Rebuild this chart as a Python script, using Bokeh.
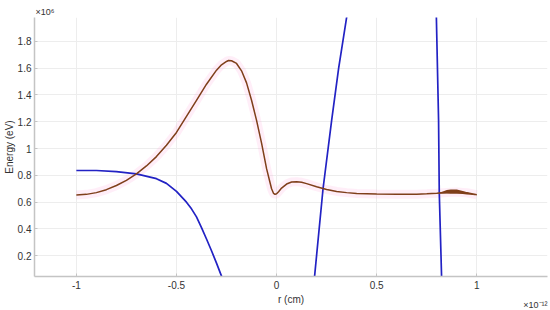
from bokeh.plotting import figure
from bokeh.models import Range1d, FixedTicker, Title
from bokeh.embed import file_html
from bokeh.resources import INLINE

# r in units of 1e-12 cm, energy in units of 1e6 eV
brown_r = [-1.0, -0.95, -0.9, -0.85, -0.8, -0.75, -0.7, -0.65, -0.6, -0.55, -0.5, -0.45, -0.4,
           -0.35, -0.3, -0.275, -0.25, -0.24, -0.225, -0.2, -0.175, -0.15, -0.125, -0.1,
           -0.075, -0.05, -0.035, -0.025, -0.015, -0.008, 0.0, 0.01, 0.025, 0.05, 0.075,
           0.1, 0.125, 0.15, 0.2, 0.25, 0.3, 0.35, 0.4, 0.5, 0.6, 0.7, 0.75, 0.8, 0.85,
           0.9, 0.95, 1.0]
brown_e = [0.654, 0.658, 0.671, 0.693, 0.724, 0.763, 0.811, 0.870, 0.940, 1.025, 1.12, 1.24, 1.36,
           1.48, 1.585, 1.625, 1.650, 1.657, 1.655, 1.635, 1.58, 1.49, 1.36, 1.21,
           1.04, 0.85, 0.76, 0.70, 0.665, 0.658, 0.662, 0.678, 0.705, 0.735, 0.750,
           0.753, 0.748, 0.738, 0.715, 0.694, 0.680, 0.671, 0.665, 0.660, 0.658, 0.659, 0.662,
           0.666, 0.672, 0.676, 0.670, 0.655]

wobble_r = [0.81, 0.83, 0.85, 0.87, 0.90, 0.93, 0.95, 0.97, 0.99]
wobble_hi = [0.670, 0.680, 0.690, 0.694, 0.694, 0.684, 0.674, 0.664, 0.656]
wobble_lo = [0.665, 0.665, 0.664, 0.663, 0.662, 0.660, 0.657, 0.655, 0.652]

blue1_r = [-1.0, -0.9, -0.8, -0.7, -0.6, -0.55, -0.5, -0.45, -0.425, -0.4, -0.375, -0.35,
           -0.325, -0.3, -0.275, -0.25]
blue1_e = [0.836, 0.836, 0.828, 0.811, 0.775, 0.740, 0.680, 0.600, 0.550, 0.490, 0.410, 0.325,
           0.237, 0.145, 0.048, -0.055]

blue2_r = [0.15, 0.19, 0.232, 0.275, 0.31, 0.35, 0.37]
blue2_e = [-0.6, 0.05, 0.70, 1.21, 1.60, 1.98, 2.15]

blue3_r = [0.79, 0.798, 0.809, 0.8125, 0.824, 0.83]
blue3_e = [2.3, 1.98, 1.21, 0.669, 0.045, -0.3]

x_ticks = [-1, -0.5, 0, 0.5, 1]
x_labels = ["-1", "-0.5", "0", "0.5", "1"]
y_ticks = [0.2, 0.4, 0.6, 0.8, 1.0, 1.2, 1.4, 1.6, 1.8]
y_labels = ["0.2", "0.4", "0.6", "0.8", "1", "1.2", "1.4", "1.6", "1.8"]

FONT = "Liberation Sans"
TXT = "#333333"
BROWN = "#7f3f1a"
BLUE = "#2222c4"

X0, X1 = -1.209, 1.353
Y0, Y1 = 0.045, 1.978

p = figure(width=550, height=310, output_backend="svg", toolbar_location=None,
           x_range=Range1d(X0, X1), y_range=Range1d(Y0, Y1),
           min_border_left=32, min_border_right=3, min_border_top=17, min_border_bottom=34)
p.outline_line_color = None
p.background_fill_color = "white"

for ax in (p.xaxis[0], p.yaxis[0]):
    ax.axis_line_color = "#c4c4c4"
    ax.axis_line_width = 1.5
    ax.major_tick_in = 3
    ax.major_tick_out = 0
    ax.major_tick_line_color = "#c4c4c4"
    ax.minor_tick_line_color = None
    ax.major_label_text_font = FONT
    ax.major_label_text_font_size = "10px"
    ax.major_label_text_color = TXT
    ax.axis_label_text_font = FONT
    ax.axis_label_text_font_size = "10px"
    ax.axis_label_text_font_style = "normal"
    ax.axis_label_text_color = TXT

p.xaxis[0].ticker = FixedTicker(ticks=x_ticks)
p.xaxis[0].major_label_overrides = {t: l for t, l in zip(x_ticks, x_labels)}
p.yaxis[0].ticker = FixedTicker(ticks=y_ticks)
p.yaxis[0].major_label_overrides = {t: l for t, l in zip(y_ticks, y_labels)}
p.xaxis[0].axis_label = "r (cm)"
p.yaxis[0].axis_label = "Energy (eV)"
p.xaxis[0].major_label_standoff = 4
p.xaxis[0].axis_label_standoff = 2
p.yaxis[0].major_label_standoff = 3
p.yaxis[0].axis_label_standoff = 0

p.xgrid[0].ticker = FixedTicker(ticks=x_ticks)
p.ygrid[0].ticker = FixedTicker(ticks=y_ticks)
for g in (p.xgrid[0], p.ygrid[0]):
    g.grid_line_color = "#ededed"
    g.grid_line_width = 1

# faint pink halo under the brown curve
p.line(brown_r, brown_e, line_color="#ff9fd8", line_alpha=0.18, line_width=9)

p.line(blue1_r, blue1_e, line_color=BLUE, line_width=1.7)
p.line(blue2_r, blue2_e, line_color=BLUE, line_width=1.7)
p.line(blue3_r, blue3_e, line_color=BLUE, line_width=1.7)

p.varea(x=wobble_r, y1=wobble_lo, y2=wobble_hi, fill_color=BROWN)
p.line(brown_r, brown_e, line_color=BROWN, line_width=1.5)

# exponent notes
p.add_layout(Title(text="\u00d710\u2076", align="left", offset=1, standoff=2,
                   text_font=FONT, text_font_size="9px", text_font_style="normal",
                   text_color=TXT), "above")
p.add_layout(Title(text="\u00d710\u207b\u00b9\u00b2", align="right", offset=0, standoff=-16,
                   vertical_align="top",
                   text_font=FONT, text_font_size="9px", text_font_style="normal",
                   text_color=TXT), "below")

open("out.html", "w").write(file_html(p, INLINE))
